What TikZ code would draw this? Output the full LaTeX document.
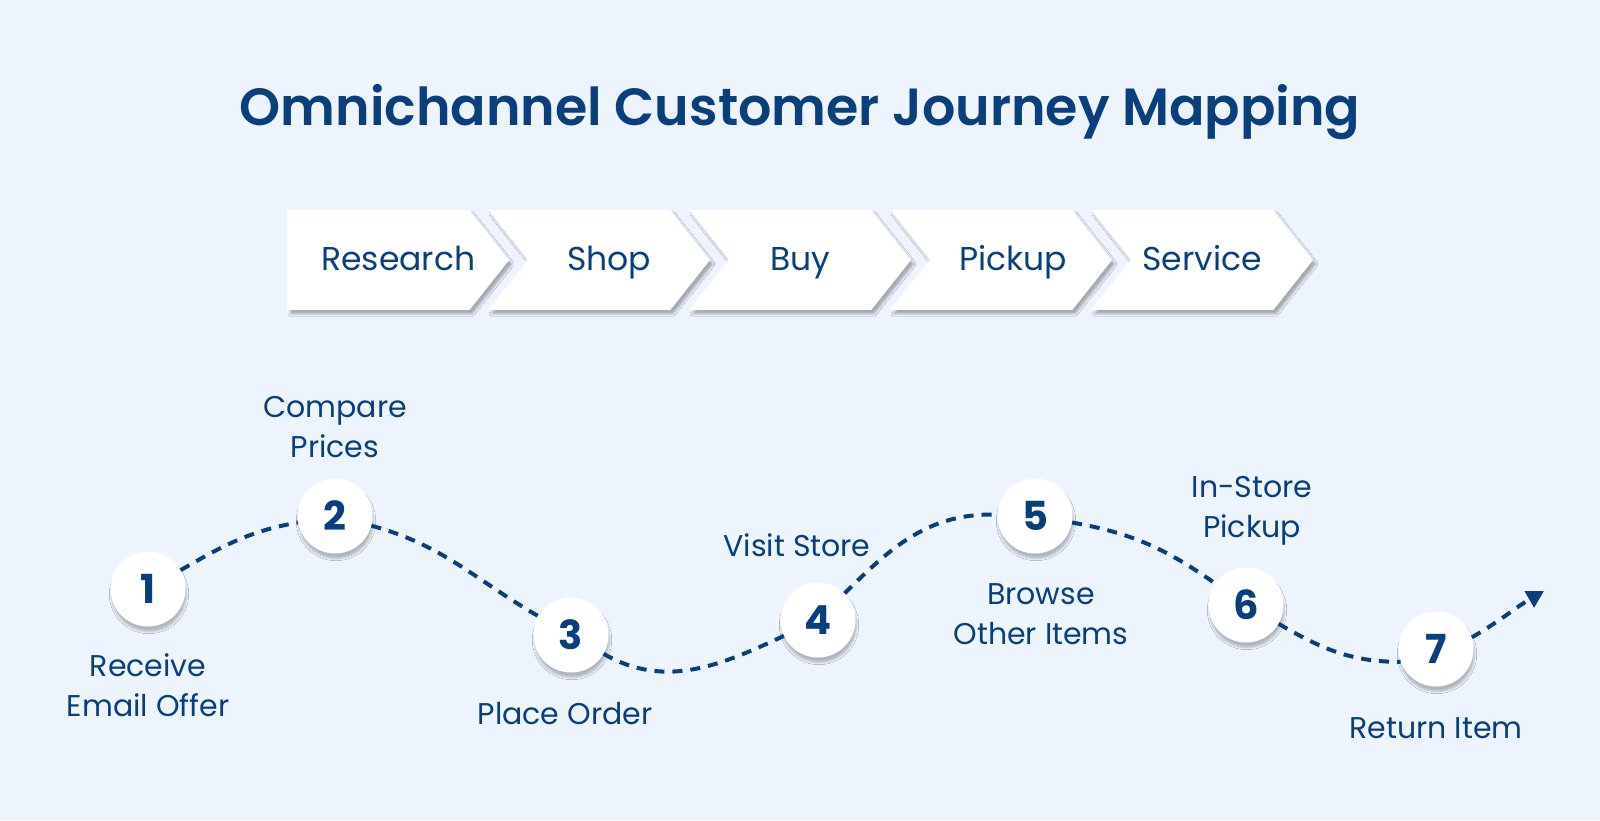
\documentclass[tikz,border=0pt]{standalone}
\usepackage{fontspec}
\setmainfont{Poppins}
\newfontfamily\titlefont{Poppins SemiBold}
\usetikzlibrary{shapes.symbols,arrows.meta,positioning,shadows.blur}
\definecolor{navy}{HTML}{0B3E7D}
\definecolor{pagebg}{HTML}{EDF4FE}
\begin{document}
\begin{tikzpicture}[x=1pt,y=1pt,
    stage/.style={signal,signal to=east,
                  signal pointer angle=103,fill=white,
                  minimum width=222pt,minimum height=100pt,inner sep=0pt,
                  text height=22pt,text depth=0pt,
                  text=navy,font=\fontsize{33}{33}\selectfont,
                  blur shadow={shadow xshift=3pt,shadow yshift=-4pt,
                               shadow opacity=30}},
    notched/.style={signal from=west},
    tpoint/.style={circle,fill=white,minimum size=75pt,inner sep=0pt,
                   text=navy,font=\bfseries\fontsize{40}{40}\selectfont,
                   blur shadow={shadow xshift=1pt,shadow yshift=-5pt,
                                shadow opacity=25}},
    lbl/.style={align=center,text=navy,inner sep=0pt,
                font=\fontsize{30}{40}\selectfont},
    path/.style={navy,line width=4pt,dash pattern=on 10pt off 8pt}]
  \fill[pagebg] (0,0) rectangle (1600,820);
  % title
  \node[text=navy,font=\titlefont\fontsize{52.3}{60}\selectfont] (title)
    at (800,708) {Omnichannel Customer Journey Mapping};
  % stages
  \node[stage,anchor=west] (research) at (287,560) {\kern20pt Research\kern-20pt};
  \node[stage,notched] (shop) at (599,560) {\kern10pt Shop\kern-10pt};
  \node[stage,notched] (buy) at (800,560) {Buy};
  \node[stage,notched] (pickup) at (1001,560) {\kern12pt Pickup\kern-12pt};
  \node[stage,notched] (service) at (1202,560) {Service};
  % touchpoints
  \node[tpoint] (n1) at (148,231) {1};
  \node[tpoint] (n2) at (335,304) {2};
  \node[tpoint] (n3) at (571,185) {3};
  \node[tpoint] (n4) at (818,200) {4};
  \node[tpoint] (n5) at (1035,304) {5};
  \node[tpoint] (n6) at (1246,215) {6};
  \node[tpoint] (n7) at (1436,171) {7};
  \coordinate (tip) at (1544,229);
  \node[lbl,below=27pt of n1] (l1) {Receive\\Email Offer};
  \node[lbl,above=20pt of n2] (l2) {Compare\\Prices};
  \node[lbl,below=29pt of n3,xshift=-6pt] (l3) {Place Order};
  \node[lbl,above=25pt of n4,xshift=-21pt] (l4) {Visit Store};
  \node[lbl,below=30pt of n5,xshift=6pt] (l5) {Browse\\Other Items};
  \node[lbl,above=22pt of n6,xshift=6pt] (l6) {In-Store\\Pickup};
  \node[lbl,below=31pt of n7] (l7) {Return Item};
  % journey line
  \draw[path] (n1) to[out=30,in=190] (n2);
  \draw[path] (n2) to[out=-15,in=150] (n3);
  \draw[path] (n3) to[out=-30,in=205] (n4);
  \draw[path] (n4) to[out=45,in=178] (n5);
  \draw[path] (n5) to[out=-10,in=145] (n6);
  \draw[path] (n6) to[out=-30,in=180] (n7.200);
  \draw[path,-{Triangle[length=17pt,width=18pt]}] (n7.18) to[out=30,in=210] (tip);
\end{tikzpicture}
\end{document}
